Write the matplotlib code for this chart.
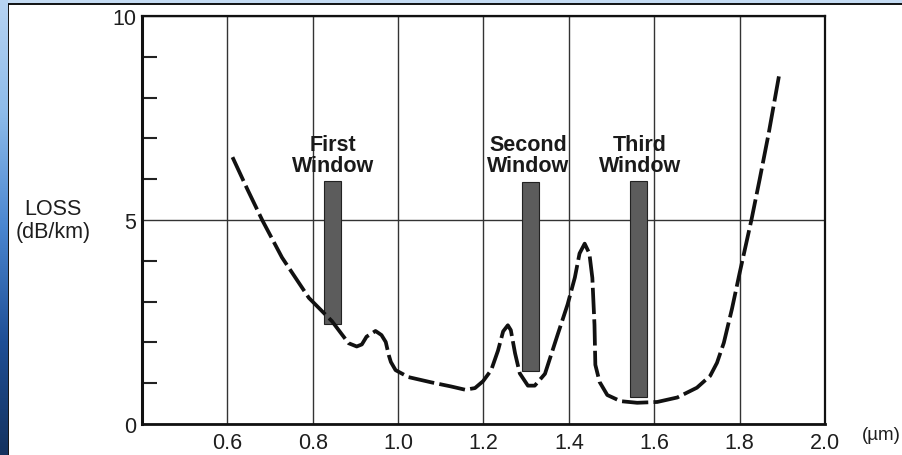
import numpy as np
import matplotlib
matplotlib.use("Agg")
import matplotlib.pyplot as plt
from matplotlib.patches import Rectangle
from matplotlib.colors import LinearSegmentedColormap

plt.rcParams['font.family'] = ['Liberation Sans', 'DejaVu Sans']

# attenuation curve (wavelength in um, loss in dB/km)
wavelength = [0.612, 0.647, 0.682, 0.728, 0.791, 0.845, 0.868, 0.884, 0.903, 0.915,
              0.926, 0.947, 0.961, 0.971, 0.978, 0.983, 0.994, 1.024, 1.078, 1.124,
              1.157, 1.180, 1.199, 1.218, 1.234, 1.246, 1.257, 1.264, 1.274, 1.285,
              1.304, 1.320, 1.344, 1.374, 1.397, 1.414, 1.425, 1.437, 1.448, 1.455,
              1.460, 1.462, 1.472, 1.490, 1.521, 1.560, 1.607, 1.654, 1.700, 1.731,
              1.747, 1.763, 1.782, 1.800, 1.828, 1.847, 1.868, 1.892]
loss = [6.54, 5.75, 4.99, 4.08, 3.09, 2.52, 2.20, 1.98, 1.90, 1.95,
        2.14, 2.28, 2.18, 2.01, 1.69, 1.52, 1.32, 1.15, 1.02, 0.92,
        0.84, 0.88, 1.05, 1.32, 1.80, 2.27, 2.42, 2.30, 1.73, 1.24,
        0.94, 0.94, 1.23, 2.20, 2.93, 3.59, 4.18, 4.42, 4.18, 3.58,
        2.43, 1.45, 1.03, 0.71, 0.56, 0.52, 0.54, 0.65, 0.89, 1.18,
        1.50, 1.99, 2.82, 3.70, 5.02, 6.00, 7.12, 8.52]

window_names = ["First\nWindow", "Second\nWindow", "Third\nWindow"]
window_center = [0.847, 1.311, 1.564]
window_top = [5.96, 5.94, 5.96]
window_bottom = [2.45, 1.30, 0.66]
window_label_x = [0.847, 1.305, 1.567]

x_ticks = [0.6, 0.8, 1.0, 1.2, 1.4, 1.6, 1.8, 2.0]
x_labels = ["0.6", "0.8", "1.0", "1.2", "1.4", "1.6", "1.8", "2.0"]
y_ticks = [0, 5, 10]
y_minor = [1, 2, 3, 4, 6, 7, 8, 9]

W, H = 903, 456
fig = plt.figure(figsize=(W / 100, H / 100), dpi=100)
fig.patch.set_facecolor('#c4dbf3')

# blue slide edge on the left
strip = fig.add_axes([0, 0, 8 / W, 1])
edge_cmap = LinearSegmentedColormap.from_list(
    'edge', ['#b8d4f2', '#8dbbea', '#4a86d0', '#1f4f96', '#15335f'])
strip.imshow(np.linspace(0, 1, 256).reshape(-1, 1), aspect='auto', cmap=edge_cmap)
strip.set_axis_off()

# white scanned page with a thin black border
page = Rectangle((8 / W, -0.01), 1.0, 1.01 - 5 / H, transform=fig.transFigure,
                 facecolor='white', edgecolor='black', lw=1.3, zorder=-5)
fig.add_artist(page)

ax = fig.add_axes([142 / W, 1 - 425 / H, (825 - 142) / W, (425 - 17) / H])
ax.set_facecolor('none')

ax.bar(window_center, np.subtract(window_top, window_bottom), bottom=window_bottom,
       width=0.04, color='#5c5c5c', edgecolor='#222222', lw=0.8, zorder=3)

ax.plot(wavelength, loss, color='#111111', lw=2.7, linestyle=(0, (7, 1.4)),
        dash_capstyle='butt', zorder=4)

for name, x in zip(window_names, window_label_x):
    ax.text(x, 6.6, name, ha='center', va='center', fontsize=15.5,
            fontweight='bold', linespacing=1.0, color='#1a1a1a', zorder=5)

ax.set_xlim(0.4, 2.0)
ax.set_ylim(0, 10)
ax.set_xticks(x_ticks)
ax.set_xticklabels(x_labels)
ax.set_yticks(y_ticks)
ax.set_yticks(y_minor, minor=True)
ax.grid(True, which='major', color='#333333', lw=1.0)
ax.set_axisbelow(True)

ax.tick_params(axis='x', which='both', length=0, pad=6, labelsize=15.5, labelcolor='#1e1e1e')
ax.tick_params(axis='y', which='major', length=0, pad=4, labelsize=15.5, labelcolor='#1e1e1e')
ax.tick_params(axis='y', which='minor', direction='in', length=11, width=1.5,
               color='#222222', left=True)

for side, w in [('left', 2.2), ('bottom', 2.0), ('top', 1.6), ('right', 1.6)]:
    ax.spines[side].set_linewidth(w)
    ax.spines[side].set_color('#111111')

fig.text(53 / W, 1 - 221 / H, "LOSS\n(dB/km)", ha='center', va='center',
         fontsize=15.5, linespacing=1.1, color='#1e1e1e')
fig.text(862 / W, 1 - 436 / H, "(\u00b5m)", ha='left', va='center',
         fontsize=13.5, color='#1e1e1e')

fig.savefig('out.png', dpi=100)
